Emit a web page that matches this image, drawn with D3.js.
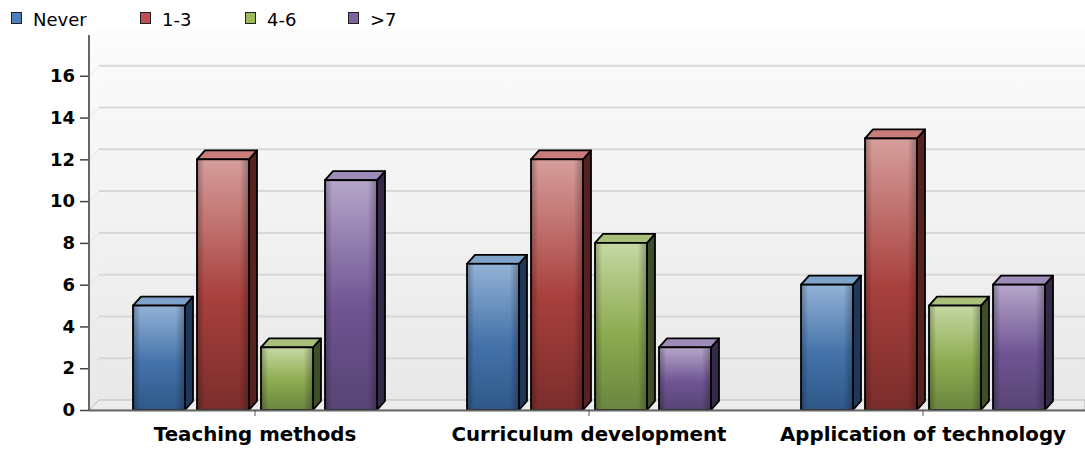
<!DOCTYPE html>
<html>
<head>
<meta charset="utf-8">
<script src="https://cdn.jsdelivr.net/npm/d3@7"></script>
<style>
  html, body { margin: 0; padding: 0; background: #ffffff; }
  svg { display: block; }
  text { font-family: "DejaVu Sans", Verdana, sans-serif; fill: #000; }
</style>
</head>
<body>
<svg id="chart" width="1085" height="449"></svg>
<script>
// Survey responses per training area
const categories = ["Teaching methods", "Curriculum development", "Application of technology"];
const seriesNames = ["Never", "1-3", "4-6", ">7"];
const never = [5, 7, 6];
const oneToThree = [12, 12, 13];
const fourToSix = [3, 8, 5];
const sevenPlus = [11, 3, 6];
const yTicks = [0, 2, 4, 6, 8, 10, 12, 14, 16];

const seriesValues = [never, oneToThree, fourToSix, sevenPlus];

// Palette per series: front gradient stops, side face, top face, legend swatch
const palette = [
  { top: "#93b2d6", mid: "#4472a9", bot: "#2f5889", side: "#1f385a", cap: "#7fa2cb", key: "#4f7fba" },
  { top: "#d69e9c", mid: "#a8403d", bot: "#7a2d2b", side: "#572120", cap: "#c97c79", key: "#c0504d" },
  { top: "#c5d8a3", mid: "#8caa4f", bot: "#6a853f", side: "#3e4e26", cap: "#a9c07b", key: "#9bbb59" },
  { top: "#b5a6ca", mid: "#6f5593", bot: "#574474", side: "#342a48", cap: "#9e8cb8", key: "#7f63a1" }
];

const svg = d3.select("#chart");
const defs = svg.append("defs");

// Plot geometry
const left = 89, right = 1085, base = 410;
const depthX = 10, depthY = 10;      // wall depth
const barDX = 8, barDY = 9;          // bar depth

const y = d3.scaleLinear().domain([0, 18]).range([base, 34]);
const x0 = d3.scaleBand().domain(categories).range([88, 1090]);
const x1 = d3.scaleBand().domain(seriesNames).range([-128, 128])
  .paddingInner(0.1875).paddingOuter(0.09375);

// Gradients
const wallGrad = defs.append("linearGradient").attr("id", "wall")
  .attr("x1", 0).attr("y1", 0).attr("x2", 0).attr("y2", 1);
wallGrad.append("stop").attr("offset", "0%").attr("stop-color", "#fcfcfc");
wallGrad.append("stop").attr("offset", "100%").attr("stop-color", "#e8e8e8");

palette.forEach((p, i) => {
  const g = defs.append("linearGradient").attr("id", "front" + i)
    .attr("x1", 0).attr("y1", 0).attr("x2", 0).attr("y2", 1);
  g.append("stop").attr("offset", "0%").attr("stop-color", p.top);
  g.append("stop").attr("offset", "55%").attr("stop-color", p.mid);
  g.append("stop").attr("offset", "100%").attr("stop-color", p.bot);
});
const bevel = defs.append("linearGradient").attr("id", "bevel")
  .attr("x1", 0).attr("y1", 0).attr("x2", 1).attr("y2", 0);
bevel.append("stop").attr("offset", "0%").attr("stop-color", "#000").attr("stop-opacity", 0.28);
bevel.append("stop").attr("offset", "14%").attr("stop-color", "#000").attr("stop-opacity", 0);
bevel.append("stop").attr("offset", "82%").attr("stop-color", "#000").attr("stop-opacity", 0);
bevel.append("stop").attr("offset", "100%").attr("stop-color", "#000").attr("stop-opacity", 0.3);

// Back wall
const wallTop = y(18) - depthY + 3;
svg.append("rect")
  .attr("x", left + depthX).attr("y", wallTop)
  .attr("width", right - left - depthX).attr("height", base - depthY - wallTop)
  .attr("fill", "url(#wall)");

// Left wall
svg.append("path")
  .attr("d", `M${left},${wallTop + depthY}L${left + depthX},${wallTop}L${left + depthX},${base - depthY}L${left},${base}Z`)
  .attr("fill", "url(#wall)");

// Gridlines on back wall plus their diagonal on the side wall
const grid = svg.append("g");
grid.selectAll("line.h").data(yTicks.filter(d => d > 0)).join("line")
  .attr("class", "h")
  .attr("x1", left + depthX).attr("x2", right)
  .attr("y1", d => y(d) - depthY).attr("y2", d => y(d) - depthY)
  .attr("stroke", "#d8d8d8").attr("stroke-width", 2);
grid.selectAll("line.d").data(yTicks.filter(d => d > 0)).join("line")
  .attr("class", "d")
  .attr("x1", left).attr("x2", left + depthX)
  .attr("y1", d => y(d)).attr("y2", d => y(d) - depthY)
  .attr("stroke", "#e2e2e2").attr("stroke-width", 1);

// Floor
svg.append("path")
  .attr("d", `M${left},${base}L${left + depthX},${base - depthY}L${right},${base - depthY}L${right},${base}Z`)
  .attr("fill", "#ececec").attr("stroke", "#b8b8b8").attr("stroke-width", 1);

// Bars
const bars = svg.append("g");
categories.forEach((cat, ci) => {
  seriesNames.forEach((s, si) => {
    const v = seriesValues[si][ci];
    const bx = x0(cat) + x0.bandwidth() / 2 + x1(s);
    const bw = x1.bandwidth();
    const ty = y(v);
    const p = palette[si];
    const g = bars.append("g");
    // side face
    g.append("path")
      .attr("d", `M${bx + bw},${ty}L${bx + bw + barDX},${ty - barDY}L${bx + bw + barDX},${base - barDY}L${bx + bw},${base}Z`)
      .attr("fill", p.side).attr("stroke", "#000").attr("stroke-width", 1.8).attr("stroke-linejoin", "round");
    // top face
    g.append("path")
      .attr("d", `M${bx},${ty}L${bx + barDX},${ty - barDY}L${bx + bw + barDX},${ty - barDY}L${bx + bw},${ty}Z`)
      .attr("fill", p.cap).attr("stroke", "#000").attr("stroke-width", 1.8).attr("stroke-linejoin", "round");
    // front face
    g.append("rect")
      .attr("x", bx).attr("y", ty).attr("width", bw).attr("height", base - ty)
      .attr("fill", `url(#front${si})`);
    g.append("rect")
      .attr("x", bx).attr("y", ty).attr("width", bw).attr("height", base - ty)
      .attr("fill", "url(#bevel)")
      .attr("stroke", "#000").attr("stroke-width", 1.8);
  });
});

// Y axis
const yAxis = svg.append("g")
  .attr("transform", `translate(${left},0)`)
  .call(d3.axisLeft(y).tickValues(yTicks).tickSize(9).tickPadding(5).tickFormat(d3.format("d")));
yAxis.select(".domain").remove();
yAxis.selectAll(".tick line").attr("stroke", "#444").attr("stroke-width", 1.5);
yAxis.selectAll(".tick text")
  .attr("font-family", "DejaVu Sans, sans-serif")
  .attr("font-weight", "bold").attr("font-size", 18).attr("fill", "#000");
svg.append("line")
  .attr("x1", left).attr("x2", left).attr("y1", y(18) + 1).attr("y2", base)
  .attr("stroke", "#666").attr("stroke-width", 2);

// X axis
const xAxis = svg.append("g")
  .attr("transform", `translate(0,${base})`)
  .call(d3.axisBottom(x0).tickSize(6).tickPadding(0));
xAxis.select(".domain").attr("d", `M${left},0.5H${right}`).attr("stroke", "#666").attr("stroke-width", 2);
xAxis.selectAll(".tick line").attr("stroke", "#555").attr("stroke-width", 1);
xAxis.selectAll(".tick text")
  .attr("y", 31).attr("dy", 0)
  .attr("font-family", "DejaVu Sans, sans-serif")
  .attr("font-weight", "bold").attr("font-size", 19.8).attr("fill", "#000");

// Legend
const legendX = [11, 140, 245, 348];
const legend = svg.append("g");
seriesNames.forEach((s, i) => {
  const g = legend.append("g").attr("transform", `translate(${legendX[i]},0)`);
  g.append("rect").attr("x", 0.5).attr("y", 12.5).attr("width", 10).attr("height", 11)
    .attr("fill", palette[i].key).attr("stroke", "#222").attr("stroke-width", 1);
  g.append("text").attr("x", 22).attr("y", 25.5)
    .attr("font-size", 18).text(s);
});
</script>
</body>
</html>
